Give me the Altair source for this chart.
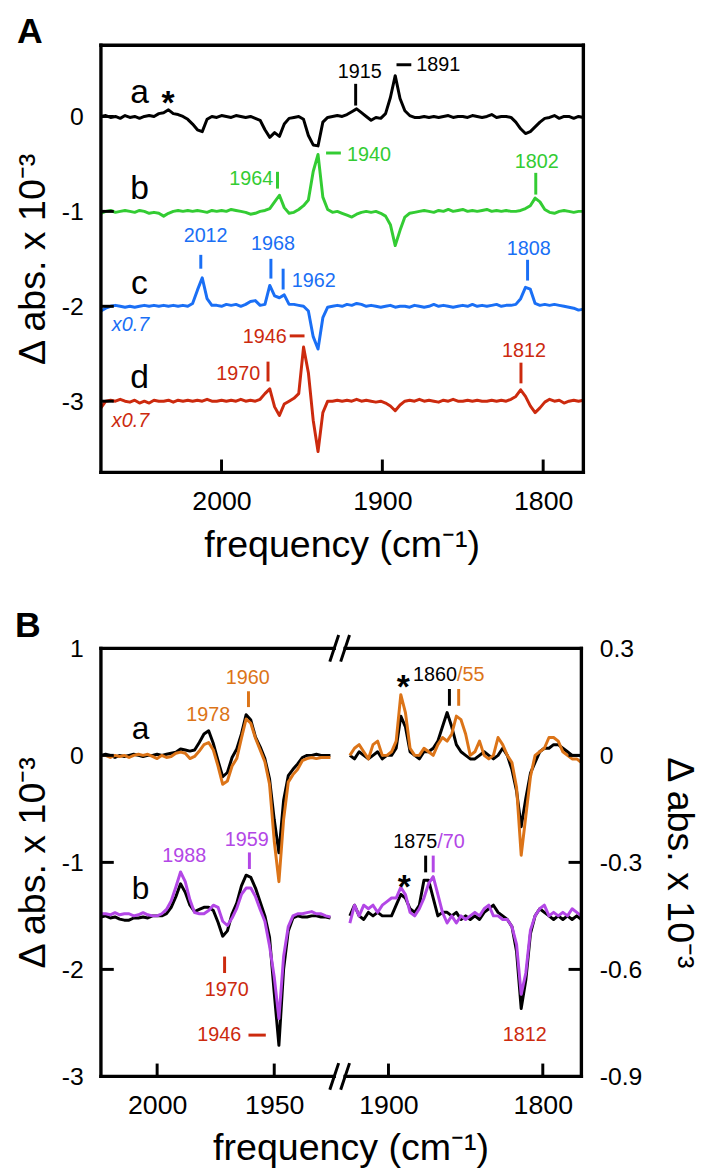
import altair as alt
import pandas as pd

FONT = "Liberation Sans"
BLACK = "#000000"
GREEN = "#33cc33"
BLUE = "#1a6ff5"
RED = "#cc2a0e"
ORANGE = "#dc7418"
PURPLE = "#b347e6"

# ---------------- Panel A data ----------------
A_FREQ = list(range(2075, 1774, -3))  # 2075 ... 1775 (101 points)
A_OFFSETS = [0, -1, -2, -3]
A_COLORS = [BLACK, GREEN, BLUE, RED]

A_TRACE_A = [
    0.0, 0.01, -0.01, 0.0, -0.02, 0.01, -0.01, 0.0, -0.02, 0.0,
    0.01, 0.0, 0.03, 0.04, 0.07, 0.03, 0.02, 0.0, -0.03, -0.08,
    -0.14, -0.16, -0.03, 0.0, -0.01, 0.01, 0.0, -0.01, 0.01, 0.0,
    -0.01, 0.0, -0.02, -0.04, -0.14, -0.22, -0.17, -0.21, -0.08, -0.02,
    -0.01, 0.0, -0.03, -0.2, -0.3, -0.31, -0.06, -0.01, 0.0, 0.01,
    0.0, 0.02, 0.05, 0.08, 0.04, 0.0, -0.04, -0.01, -0.02, 0.03,
    0.2, 0.43, 0.19, 0.06, 0.01, -0.01, -0.01, 0.0, -0.01, 0.0,
    -0.01, 0.0, 0.01, -0.01, 0.0, 0.0, -0.01, 0.01, 0.0, -0.01,
    0.0, 0.02, -0.01, 0.0, 0.0, -0.01, -0.06, -0.13, -0.18, -0.16,
    -0.11, -0.06, -0.02, -0.01, 0.01, -0.02, 0.0, 0.0, -0.02, 0.0,
    -0.01]
A_TRACE_B = [
    -0.02, 0.0, 0.01, -0.01, 0.0, 0.01, 0.0, -0.01, 0.01, 0.0,
    -0.02, -0.01, -0.02, -0.05, -0.02, 0.0, 0.01, 0.0, 0.01, 0.0,
    0.01, 0.0, -0.01, 0.01, 0.0, 0.01, 0.0, 0.02, 0.01, 0.0,
    -0.01, -0.03, -0.02, 0.0, 0.01, 0.03, 0.1, 0.17, 0.04, -0.02,
    -0.01, 0.02, 0.06, 0.12, 0.42, 0.6, 0.15, 0.02, -0.01, 0.0,
    -0.02, -0.04, -0.06, -0.03, -0.01, 0.0, -0.01, 0.0, -0.02, -0.05,
    -0.14, -0.36, -0.2, -0.06, -0.02, -0.01, 0.0, 0.01, 0.0, -0.01,
    0.01, 0.0, 0.02, 0.0, 0.01, 0.02, 0.0, 0.01, 0.0, 0.01,
    0.02, 0.0, 0.01, 0.0, 0.01, 0.0, 0.0, 0.01, 0.03, 0.06,
    0.14, 0.1, 0.02, -0.01, -0.02, 0.0, 0.01, 0.0, -0.01, 0.0,
    0.0]
A_TRACE_C = [
    -0.05, -0.02, 0.0, 0.01, 0.0, -0.01, 0.0, -0.01, 0.0, 0.01,
    0.0, 0.01, 0.0, 0.01, 0.0, 0.01, 0.0, 0.01, 0.0, 0.03,
    0.17, 0.3, 0.08, 0.01, 0.01, 0.0, 0.02, 0.01, 0.02, 0.0,
    0.02, 0.05, 0.06, 0.01, 0.02, 0.22, 0.11, 0.09, 0.12, 0.02,
    0.02, 0.01, 0.0, -0.05, -0.32, -0.45, -0.12, -0.01, 0.0, 0.01,
    0.0, 0.02, 0.01, 0.03, 0.02, 0.0, 0.01, 0.0, -0.01, 0.0,
    0.01, -0.01, 0.0, 0.0, -0.01, 0.01, 0.0, -0.01, 0.0, 0.02,
    0.0, 0.01, 0.0, -0.01, 0.0, 0.01, 0.0, 0.02, 0.0, 0.01,
    0.0, 0.01, 0.02, 0.0, 0.01, 0.01, 0.02, 0.08, 0.2, 0.18,
    0.03, 0.01, 0.02, 0.01, 0.02, 0.01, 0.0, -0.01, -0.02, -0.04,
    -0.03]
A_TRACE_D = [
    -0.07, 0.0, 0.01, 0.0, 0.02, 0.0, -0.01, 0.01, -0.02, 0.0,
    -0.02, 0.01, 0.0, 0.0, 0.01, -0.01, 0.01, 0.0, 0.01, 0.0,
    0.01, 0.0, 0.02, 0.0, 0.0, 0.01, 0.0, 0.01, 0.0, 0.02,
    0.0, 0.01, 0.0, 0.02, 0.08, 0.13, -0.06, -0.15, -0.03, 0.0,
    0.03, 0.08, 0.57, 0.3, -0.2, -0.53, -0.12, 0.0, 0.0, 0.01,
    0.0, 0.01, 0.0, 0.02, 0.0, 0.01, 0.0, -0.01, 0.0, -0.02,
    -0.05, -0.1, -0.04, 0.0, 0.01, 0.0, 0.02, 0.0, 0.01, 0.0,
    -0.01, 0.01, 0.0, 0.02, 0.0, 0.0, 0.01, 0.0, 0.01, 0.0,
    0.0, 0.01, 0.0, 0.01, 0.0, 0.02, 0.05, 0.12, 0.05, -0.05,
    -0.12, -0.07, -0.01, 0.02, 0.0, 0.01, -0.02, 0.0, 0.01, 0.0,
    0.01]
A_TRACES = [A_TRACE_A, A_TRACE_B, A_TRACE_C, A_TRACE_D]

# annotation tick marks (freq, top, bottom, colour)
A_TICKS = [
    (1916.6, 0.344, 0.115, BLACK),
    (1965.2, -0.583, -0.760, GREEN),
    (1804.6, -0.594, -0.823, GREEN),
    (2012.9, -1.458, -1.604, BLUE),
    (1969.3, -1.500, -1.708, BLUE),
    (1961.7, -1.604, -1.823, BLUE),
    (1809.7, -1.510, -1.729, BLUE),
    (1971.1, -2.583, -2.792, RED),
    (1813.8, -2.594, -2.812, RED),
]
A_DASHES = [
    (1891.2, 1882.0, 0.545, BLACK),
    (1935.0, 1925.8, -0.385, GREEN),
    (1957.6, 1948.4, -2.312, RED),
]
A_TEXT_CENTER = [
    (1914.0, 0.41, "1915", BLACK),
    (1804.0, -0.542, "1802", GREEN),
    (2009.9, -1.323, "2012", BLUE),
    (1968.0, -1.406, "1968", BLUE),
    (1808.9, -1.458, "1808", BLUE),
    (1811.9, -2.538, "1812", RED),
]
A_TEXT_LEFT = [
    (1878.9, 0.479, "1891", BLACK),
    (1922.0, -0.469, "1940", GREEN),
    (1956.4, -1.792, "1962", BLUE),
]
A_TEXT_RIGHT = [
    (1967.9, -0.726, "1964", GREEN),
    (1959.4, -2.382, "1946", RED),
    (1976.0, -2.781, "1970", RED),
]
A_LETTERS = [
    (2051.0, 0.146, "a", BLACK),
    (2051.0, -0.872, "b", BLACK),
    (2051.0, -1.875, "c", BLACK),
    (2051.0, -2.865, "d", BLACK),
]
A_STARS = [(2033.2, 0.03, "*", BLACK)]
A_SCALES = [
    (2056.6, -2.26, "x0.7", BLUE),
    (2056.6, -3.27, "x0.7", RED),
]
A_XTICKS = [2000, 1900, 1800]
A_YTICKS = [0, -1, -2, -3]

# ---------------- Panel B data ----------------
B_LEFT_FREQ = list(range(2024, 1925, -2))   # 2024 ... 1926 (50 points)
B_RIGHT_FREQ = list(range(1925, 1774, -3))  # 1925 ... 1775 (51 points)
B_LEFT_OFFSETS = [0, -1.5]
B_RIGHT_OFFSETS = [0, -0.45]

B_L_A_BLACK = [
    0.0, 0.01, 0.0, -0.02, 0.0, -0.01, 0.0, 0.01, 0.0, -0.01,
    0.0, 0.0, 0.01, 0.0, 0.01, 0.02, 0.03, 0.06, 0.05, 0.04,
    0.05, 0.12, 0.2, 0.23, 0.11, -0.05, -0.2, -0.16, -0.02, 0.06,
    0.2, 0.38, 0.33, 0.17, 0.08, -0.03, -0.22, -0.6, -0.91, -0.42,
    -0.19, -0.13, -0.08, -0.02, 0.0, 0.0, 0.01, 0.0, 0.0, 0.0]
B_L_A_ORANGE = [
    0.0, 0.0, -0.02, 0.0, -0.01, 0.0, -0.02, 0.0, 0.01, 0.0,
    0.01, -0.01, -0.03, 0.0, -0.02, -0.01, 0.02, 0.03, 0.02, -0.03,
    -0.01, 0.04, 0.1, 0.12, 0.05, -0.1, -0.27, -0.24, -0.1, -0.03,
    0.16, 0.34, 0.3, 0.16, 0.05, -0.06, -0.27, -0.8, -1.18, -0.6,
    -0.25, -0.18, -0.13, -0.05, -0.03, -0.02, -0.03, -0.02, -0.02, -0.02]
B_L_B_BLACK = [
    -0.01, 0.0, -0.02, -0.01, -0.03, -0.04, -0.04, -0.02, -0.02, -0.01,
    -0.02, 0.0, 0.0, 0.0, 0.02, 0.08, 0.18, 0.3, 0.22, 0.1,
    0.04, 0.06, 0.08, 0.08, 0.05, -0.06, -0.19, -0.14, 0.02, 0.12,
    0.28, 0.38, 0.36, 0.26, 0.13, 0.0, -0.2, -0.72, -1.21, -0.5,
    -0.14, -0.02, 0.0, -0.01, -0.01, 0.0, 0.0, -0.01, -0.01, -0.02]
B_L_B_PURPLE = [
    0.02, 0.02, 0.01, 0.03, 0.01, 0.02, 0.02, 0.0, 0.01, 0.03,
    0.01, 0.0, 0.0, 0.02, 0.06, 0.14, 0.27, 0.41, 0.32, 0.15,
    0.03, 0.02, 0.02, 0.05, 0.1, 0.08, -0.05, -0.09, -0.02, 0.07,
    0.2, 0.26, 0.26, 0.18, 0.06, -0.05, -0.28, -0.57, -0.96, -0.38,
    -0.1, 0.0, 0.02, 0.02, 0.03, 0.04, 0.02, 0.02, 0.0, -0.01]

B_R_A_BLACK = [
    0.0, -0.01, 0.01, 0.0, -0.01, 0.0, 0.01, -0.01, 0.0, 0.0,
    0.02, 0.11, 0.08, 0.01, 0.0, -0.01, 0.01, 0.01, 0.02, 0.04,
    0.08, 0.12, 0.08, 0.03, 0.01, 0.0, -0.01, -0.01, 0.0, 0.01,
    0.0, -0.01, 0.0, 0.02, 0.0, -0.04, -0.1, -0.2, -0.12, -0.05,
    -0.02, 0.01, 0.02, 0.02, 0.03, 0.03, 0.02, 0.01, 0.0, 0.0,
    0.0]
B_R_A_ORANGE = [
    0.0, 0.02, 0.03, 0.01, -0.01, 0.03, 0.04, 0.0, 0.0, 0.01,
    0.04, 0.17, 0.12, 0.02, 0.0, 0.0, 0.02, 0.01, 0.0, 0.03,
    0.05, 0.04, 0.06, 0.11, 0.1, 0.06, 0.0, 0.01, 0.04, 0.0,
    -0.01, 0.0, 0.05, 0.03, 0.0, -0.02, -0.09, -0.28, -0.17, -0.06,
    0.0, 0.01, 0.02, 0.05, 0.05, 0.04, 0.01, 0.0, -0.01, -0.01,
    -0.02]
B_R_B_BLACK = [
    0.0, 0.03, 0.0, -0.01, 0.01, 0.0, 0.01, 0.0, 0.0, 0.0,
    0.03, 0.06, 0.05, 0.02, 0.01, 0.03, 0.1, 0.1, 0.05, 0.0,
    0.01, 0.01, 0.0, 0.01, -0.01, 0.0, -0.01, 0.0, -0.01, 0.01,
    0.02, 0.03, 0.01, 0.0, -0.01, -0.03, -0.1, -0.26, -0.18, -0.05,
    0.0, 0.02, 0.01, 0.0, -0.01, 0.0, -0.01, 0.0, -0.01, 0.0,
    -0.01]
B_R_B_PURPLE = [
    -0.02, 0.03, 0.0, 0.03, 0.02, 0.03, 0.01, 0.03, 0.04, 0.05,
    0.05, 0.08, 0.06, 0.01, 0.0, 0.02, 0.05, 0.09, 0.11, 0.06,
    0.01, -0.02, 0.0, -0.02, 0.0, -0.01, 0.0, 0.01, 0.0, 0.02,
    0.03, 0.0, 0.0, -0.01, -0.01, -0.03, -0.08, -0.22, -0.16, -0.04,
    0.0, 0.02, 0.03, 0.0, 0.01, 0.0, 0.01, 0.0, 0.02, 0.01,
    0.0]

B_L_TICKS = [
    (1961.0, 0.599, 0.451, ORANGE),
    (1960.6, -0.907, -1.062, PURPLE),
    (1971.2, -1.880, -2.034, RED),
]
B_L_DASHES = [(1961.0, 1953.6, -2.614, RED)]
B_L_TEXT_CENTER = [
    (1978.2, 0.321, "1978", ORANGE),
    (1961.3, 0.667, "1960", ORANGE),
    (1988.4, -1.0, "1988", PURPLE),
    (1961.7, -0.846, "1959", PURPLE),
    (1970.3, -2.25, "1970", RED),
]
B_L_TEXT_RIGHT = [(1964.1, -2.667, "1946", RED)]
B_L_LETTERS = [(2007.1, 0.157, "a", BLACK), (2007.1, -1.34, "b", BLACK)]

B_R_TICKS = [
    (1860.5, 0.186, 0.139, BLACK),
    (1854.5, 0.186, 0.139, ORANGE),
    (1875.9, -0.281, -0.328, BLACK),
    (1871.0, -0.281, -0.328, PURPLE),
]
B_R_TEXT_RIGHT = [(1855.6, 0.2075, "1860", BLACK), (1868.4, -0.261, "1875", BLACK)]
B_R_TEXT_LEFT = [(1855.6, 0.2075, "/55", ORANGE), (1868.4, -0.261, "/70", PURPLE)]
B_R_TEXT_CENTER = [(1811.7, -0.8, "1812", RED)]
B_R_STARS = [(1890.4, 0.16, "*", BLACK), (1889.7, -0.40, "*", BLACK)]

B_L_XTICKS = [2000, 1950]
B_R_XTICKS = [1900, 1800]
B_L_YTICKS = [1, 0, -1, -2, -3]
B_R_YTICKS = [0.3, 0, -0.3, -0.6, -0.9]

YTITLE = "\u0394 abs. x 10\u207b\u00b3"
XTITLE = "frequency (cm\u207b\u00b9)"

# ---------------- sizes ----------------
WA, HA = 488, 432
WBL, WBR, HB = 244, 242, 433
LW = 3
BW = 3.4


def x_enc(domain, ticks):
    return alt.X("f:Q", scale=alt.Scale(domain=domain, reverse=True, nice=False, zero=False),
                 axis=alt.Axis(values=ticks, title=None, domain=False, ticks=False, grid=False,
                               labelFont=FONT, labelFontSize=27, labelColor="black",
                               labelPadding=17, labelExpr="'' + datum.value"))


def y_enc(domain, ticks, orient, title_pad):
    return alt.Y("v:Q", scale=alt.Scale(domain=domain, nice=False, zero=False),
                 axis=alt.Axis(values=ticks, orient=orient, domain=False, ticks=False, grid=False,
                               labelFont=FONT, labelFontSize=25, labelColor="black",
                               labelPadding=18, labelExpr="'' + datum.value",
                               title=YTITLE, titleFont=FONT, titleFontSize=38,
                               titleFontWeight="normal", titleColor="black",
                               titlePadding=title_pad))


def lines(freq, vals, off, color, X, Y):
    df = pd.DataFrame({"f": freq, "v": [v + off for v in vals]})
    return alt.Chart(df).mark_line(color=color, strokeWidth=LW, strokeJoin="round").encode(x=X, y=Y)


def vticks(rows, X, Y):
    df = pd.DataFrame(rows, columns=["f", "v", "v2", "c"])
    return alt.Chart(df).mark_rule(strokeWidth=3).encode(
        x=X, y=Y, y2=alt.Y2("v2:Q"), color=alt.Color("c:N", scale=None))


def hdashes(rows, X, Y):
    df = pd.DataFrame(rows, columns=["f", "f2", "v", "c"])
    return alt.Chart(df).mark_rule(strokeWidth=3).encode(
        x=X, x2=alt.X2("f2:Q"), y=Y, color=alt.Color("c:N", scale=None))


def texts(rows, X, Y, align, size, **kw):
    df = pd.DataFrame(rows, columns=["f", "v", "t", "c"])
    return alt.Chart(df).mark_text(align=align, baseline="alphabetic", font=FONT,
                                   fontSize=size, **kw).encode(
        x=X, y=Y, text="t:N", color=alt.Color("c:N", scale=None))


def one():
    return pd.DataFrame({"k": [0]})


def seg(x1, x2, y1, y2=None, width=BW):
    enc = dict(x=alt.value(x1), x2=alt.value(x2), y=alt.value(y1))
    if y2 is not None:
        enc["y2"] = alt.value(y2)
    return alt.Chart(one()).mark_rule(color="black", strokeWidth=width, strokeCap="square").encode(**enc)


def label(text, x, y, size, weight="normal", align="center"):
    df = pd.DataFrame({"t": [text]})
    return alt.Chart(df).mark_text(font=FONT, fontSize=size, fontWeight=weight, align=align,
                                   baseline="alphabetic", color="black").encode(
        text="t:N", x=alt.value(x), y=alt.value(y))


def inner_yticks(vals, Y, right=False, width=None):
    df = pd.DataFrame({"v": vals})
    if right:
        enc = dict(x=alt.value(width - 13), x2=alt.value(width))
    else:
        enc = dict(x=alt.value(0), x2=alt.value(13))
    return alt.Chart(df).mark_rule(color="black", strokeWidth=3).encode(y=Y, **enc)


def inner_xticks(vals, X, height):
    df = pd.DataFrame({"f": vals})
    return alt.Chart(df).mark_rule(color="black", strokeWidth=3).encode(
        x=X, y=alt.value(height - 13), y2=alt.value(height))


# ---------------- Panel A ----------------
XA = x_enc([1775, 2075], A_XTICKS)
YA = y_enc([-3.75, 0.75], A_YTICKS, "left", 9)

a_layers = [lines(A_FREQ, tr, off, col, XA, YA)
            for tr, off, col in zip(A_TRACES, A_OFFSETS, A_COLORS)]
a_layers += [
    vticks(A_TICKS, XA, YA),
    hdashes(A_DASHES, XA, YA),
    texts(A_TEXT_CENTER, XA, YA, "center", 20),
    texts(A_TEXT_LEFT, XA, YA, "left", 20),
    texts(A_TEXT_RIGHT, XA, YA, "right", 20),
    texts(A_LETTERS, XA, YA, "center", 34),
    texts(A_STARS, XA, YA, "center", 34, fontWeight="bold"),
    texts(A_SCALES, XA, YA, "center", 20, fontStyle="italic"),
    inner_yticks(A_YTICKS, YA),
    inner_xticks(A_XTICKS, XA, HA),
    seg(0, WA, 0), seg(0, WA, HA), seg(0, 0, 0, HA), seg(WA, WA, 0, HA),
    label("A", -72, -2, 36, "bold"),
    label(XTITLE, WA / 2, HA + 86, 38),
]
panelA = alt.layer(*a_layers).properties(width=WA, height=HA)

# ---------------- Panel B left ----------------
XBL = x_enc([1921, 2024], B_L_XTICKS)
YBL = y_enc([-3, 1], B_L_YTICKS, "left", 9)

bl_layers = [
    lines(B_LEFT_FREQ, B_L_A_BLACK, B_LEFT_OFFSETS[0], BLACK, XBL, YBL),
    lines(B_LEFT_FREQ, B_L_A_ORANGE, B_LEFT_OFFSETS[0], ORANGE, XBL, YBL),
    lines(B_LEFT_FREQ, B_L_B_BLACK, B_LEFT_OFFSETS[1], BLACK, XBL, YBL),
    lines(B_LEFT_FREQ, B_L_B_PURPLE, B_LEFT_OFFSETS[1], PURPLE, XBL, YBL),
    vticks(B_L_TICKS, XBL, YBL),
    hdashes(B_L_DASHES, XBL, YBL),
    texts(B_L_TEXT_CENTER, XBL, YBL, "center", 20),
    texts(B_L_TEXT_RIGHT, XBL, YBL, "right", 20),
    texts(B_L_LETTERS, XBL, YBL, "center", 32),
    inner_yticks([0, -1, -2], YBL),
    inner_xticks(B_L_XTICKS, XBL, HB),
    seg(0, WBL - 8, 0), seg(0, WBL - 8, HB), seg(0, 0, 0, HB),
    # axis-break marks
    seg(WBL - 12, WBL - 4, 12, -12, 3), seg(WBL - 1, WBL + 7, 12, -12, 3),
    seg(WBL - 12, WBL - 4, HB + 12, HB - 12, 3), seg(WBL - 1, WBL + 7, HB + 12, HB - 12, 3),
    label("B", -74, -11, 36, "bold"),
    label(XTITLE, WBL + 9, HB + 85, 38),
]
panelBL = alt.layer(*bl_layers).properties(width=WBL, height=HB)

# ---------------- Panel B right ----------------
XBR = x_enc([1775, 1930], B_R_XTICKS)
YBR = y_enc([-0.9, 0.3], B_R_YTICKS, "right", 18)

br_layers = [
    lines(B_RIGHT_FREQ, B_R_A_BLACK, B_RIGHT_OFFSETS[0], BLACK, XBR, YBR),
    lines(B_RIGHT_FREQ, B_R_A_ORANGE, B_RIGHT_OFFSETS[0], ORANGE, XBR, YBR),
    lines(B_RIGHT_FREQ, B_R_B_BLACK, B_RIGHT_OFFSETS[1], BLACK, XBR, YBR),
    lines(B_RIGHT_FREQ, B_R_B_PURPLE, B_RIGHT_OFFSETS[1], PURPLE, XBR, YBR),
    vticks(B_R_TICKS, XBR, YBR),
    texts(B_R_TEXT_RIGHT, XBR, YBR, "right", 20),
    texts(B_R_TEXT_LEFT, XBR, YBR, "left", 20),
    texts(B_R_TEXT_CENTER, XBR, YBR, "center", 20),
    texts(B_R_STARS, XBR, YBR, "center", 34, fontWeight="bold"),
    inner_yticks([0, -0.3, -0.6], YBR, right=True, width=WBR),
    inner_xticks(B_R_XTICKS, XBR, HB),
    seg(3, WBR, 0), seg(3, WBR, HB), seg(WBR, WBR, 0, HB),
]
panelBR = alt.layer(*br_layers).properties(width=WBR, height=HB)

panelB = alt.hconcat(panelBL, panelBR, spacing=0, bounds="flush")

chart = alt.vconcat(panelA, panelB, spacing=44).properties(
    padding={"left": 6, "top": 0, "right": 4, "bottom": 0}, background="white"
).configure_view(strokeWidth=0)

chart.save("out.html", embed_options={"renderer": "svg", "actions": False})
